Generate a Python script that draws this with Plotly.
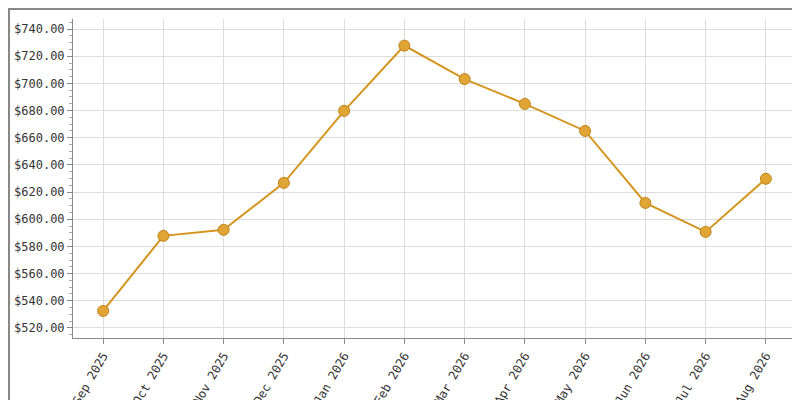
import plotly.graph_objects as go

months = ['Sep 2025', 'Oct 2025', 'Nov 2025', 'Dec 2025', 'Jan 2026', 'Feb 2026',
          'Mar 2026', 'Apr 2026', 'May 2026', 'Jun 2026', 'Jul 2026', 'Aug 2026']
prices = [532.5, 587.8, 592.2, 626.8, 679.8, 727.8, 703.2, 684.9, 665.0, 612.0, 590.7, 629.8]

fig = go.Figure(go.Scatter(
    x=months, y=prices, mode='lines+markers',
    line=dict(color='#d4941e', width=2),
    marker=dict(size=11, color='#e0a535', line=dict(color='#c08418', width=1)),
))

font = dict(family='DejaVu Sans Mono', size=12, color='#333333')
pw, ph = 723, 319
fig.update_layout(
    width=800, height=400, showlegend=False,
    margin=dict(l=65, r=12, t=11, b=70, autoexpand=False),
    plot_bgcolor='white', paper_bgcolor='white',
    font=font,
    shapes=[dict(type='rect', xref='paper', yref='paper', x0=-64 / pw, x1=1 + 11 / pw,
                 y0=-69 / ph, y1=1 + 10 / ph, line=dict(color='#888888', width=2))],
)
fig.update_xaxes(range=[-0.5, 11.5], tickangle=-60, showgrid=True, gridcolor='#dddddd',
                 showline=True, linecolor='#888888', ticks='outside', tickcolor='#888888',
                 ticklen=5, tickfont=font, automargin=False)
fig.update_yaxes(range=[512.6, 747.4], dtick=20, tickprefix='$', tickformat='.2f',
                 showgrid=True, gridcolor='#dddddd', showline=True, linecolor='#888888',
                 ticks='outside', tickcolor='#888888', ticklen=5, tickfont=font,
                 minor=dict(dtick=5, ticks='outside', ticklen=3, tickcolor='#aaaaaa', showgrid=False),
                 zeroline=False, automargin=False)

fig.write_html("out.html")
